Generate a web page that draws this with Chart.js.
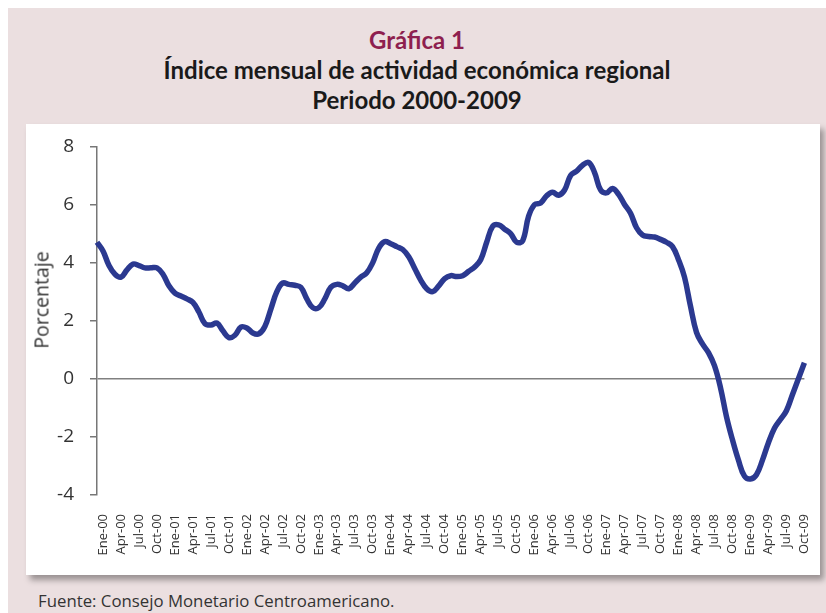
<!DOCTYPE html>
<html>
<head>
<meta charset="utf-8">
<script src="https://cdn.jsdelivr.net/npm/chart.js@4.4.1/dist/chart.umd.min.js"></script>
<style>
  body { margin: 0; background: #fff; width: 826px; height: 613px; overflow: hidden; position: relative; }
  #panel { position: absolute; left: 8px; top: 8px; width: 818px; height: 605px; background: #ebdfe0; }
  .title { position: absolute; left: 8px; width: 818px; text-align: center; font-family: Lato, "DejaVu Sans Condensed", sans-serif; font-weight: bold; font-size: 24px; color: #1a1a1a; }
  #box { position: absolute; left: 26px; top: 124px; width: 794px; height: 451px; background: #fff; box-shadow: 4px 5px 6px rgba(0,0,0,0.35); }
  #ytitle { position: absolute; left: 41px; top: 300px; transform: translate(-50%, -50%) rotate(-90deg); font-family: "Open Sans", sans-serif; font-size: 19.5px; color: #333; white-space: nowrap; }
  #fuente { position: absolute; left: 38px; top: 589px; font-family: "Open Sans", sans-serif; font-size: 16.8px; color: #333; }
  canvas { position: absolute; left: 26px; top: 119px; }
</style>
</head>
<body>
<div id="panel"></div>
<div class="title" style="top:25px; color:#8e1f4f;">Gráfica 1</div>
<div class="title" style="top:55px;">Índice mensual de actividad económica regional</div>
<div class="title" style="top:85px;">Periodo 2000-2009</div>
<div id="box"></div>
<canvas id="chart1" width="805" height="455"></canvas>
<div id="ytitle">Porcentaje</div>
<div id="fuente">Fuente: Consejo Monetario Centroamericano.</div>
<script>
// meses de Dic-99 a Oct-09
const meses = ['Ene', 'Feb', 'Mar', 'Apr', 'May', 'Jun', 'Jul', 'Ago', 'Sep', 'Oct', 'Nov', 'Dic'];
const etiquetas = ['Dic-99'];
for (let a = 0; a <= 9; a++) {
    for (let m = 0; m < 12; m++) {
        if (a === 9 && m > 9) break;
        etiquetas.push(meses[m] + '-0' + a);
    }
}

// indice mensual (%)
const imae = [
    4.7, 4.4, 3.9, 3.6, 3.5, 3.75, 3.95, 3.9, 3.82, 3.82,
    3.82, 3.6, 3.2, 2.95, 2.85, 2.75, 2.63, 2.3, 1.9, 1.85,
    1.92, 1.65, 1.42, 1.5, 1.78, 1.75, 1.58, 1.55, 1.8, 2.4,
    3.0, 3.3, 3.25, 3.22, 3.15, 2.75, 2.45, 2.45, 2.75, 3.15,
    3.25, 3.2, 3.1, 3.3, 3.5, 3.65, 4.0, 4.5, 4.72, 4.65,
    4.55, 4.45, 4.2, 3.8, 3.4, 3.1, 3.0, 3.2, 3.45, 3.55,
    3.52, 3.55, 3.7, 3.85, 4.1, 4.7, 5.25, 5.3, 5.15, 5.0,
    4.7, 4.75, 5.6, 6.0, 6.05, 6.3, 6.42, 6.32, 6.5, 7.0,
    7.15, 7.35, 7.45, 7.1, 6.5, 6.4, 6.55, 6.35, 6.0, 5.7,
    5.2, 4.95, 4.9, 4.88, 4.8, 4.7, 4.55, 4.1, 3.5, 2.5,
    1.6, 1.2, 0.9, 0.45, -0.3, -1.3, -2.1, -2.8, -3.35, -3.45,
    -3.3, -2.8, -2.2, -1.7, -1.4, -1.1, -0.55, 0.0, 0.55
];

const yTicks = [-4, -2, 0, 2, 4, 6, 8];

const ctx = document.getElementById('chart1').getContext('2d');
const chart1 = new Chart(ctx, {
    type: 'line',
    data: {
        labels: etiquetas,
        datasets: [{
            data: imae,
            borderColor: '#2b3990',
            borderWidth: 5.5,
            pointRadius: 0,
            tension: 0.4,
            fill: false
        }]
    },
    options: {
        responsive: false,
        animation: false,
        layout: { padding: { left: 0, right: 0, top: 15, bottom: 0 } },
        plugins: { legend: { display: false }, tooltip: { enabled: false } },
        scales: {
            x: {
                grid: { display: false },
                border: { display: false },
                ticks: {
                    autoSkip: false,
                    maxRotation: 90,
                    minRotation: 90,
                    padding: 11,
                    color: '#333',
                    font: { family: 'Open Sans', size: 13 },
                    callback: function (val, i) {
                        const l = etiquetas[i];
                        return /^(Ene|Apr|Jul|Oct)/.test(l) ? l : null;
                    }
                },
                afterFit: s => { s.height = 79; }
            },
            y: {
                min: yTicks[0],
                max: yTicks[yTicks.length - 1],
                ticks: {
                    stepSize: 2,
                    padding: 16,
                    color: '#333',
                    font: { family: 'Open Sans', size: 19 }
                },
                grid: {
                    tickLength: 7,
                    tickColor: '#777',
                    lineWidth: 1.5,
                    color: c => c.tick && c.tick.value === 0 ? '#808080' : 'rgba(0,0,0,0)'
                },
                border: { display: true, color: '#777', width: 1.5 },
                afterFit: s => { s.width = 71; }
            }
        }
    }
});
</script>
</body>
</html>
